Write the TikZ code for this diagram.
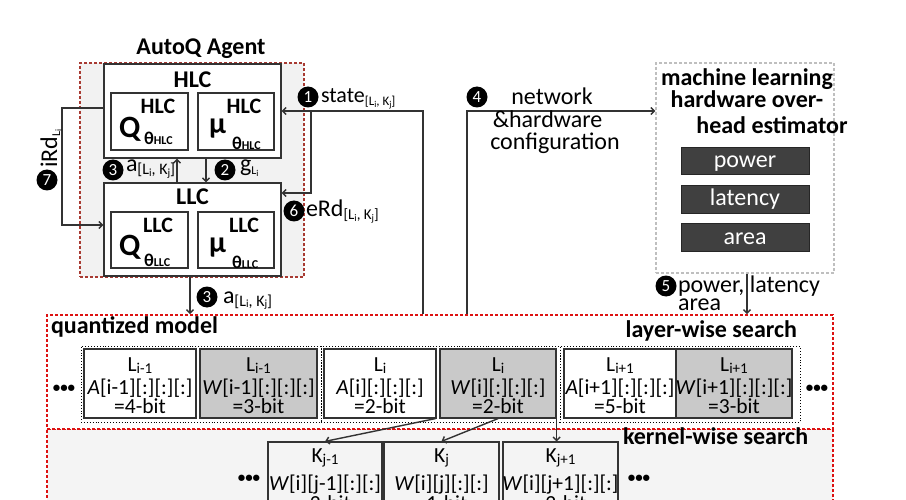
\documentclass[tikz,border=0pt]{standalone}
\usepackage{fontspec}
\setmainfont{Carlito}
\usetikzlibrary{arrows.meta}
\newcommand{\fs}[1]{\fontsize{#1}{#1}\selectfont}
\newcommand{\lo}[3]{\raisebox{-#1}{\fs{#2}#3}}
\newcommand{\LK}[3]{\lo{#1}{#2}{[L\lo{1.5pt}{#3}{i}, K\lo{1.5pt}{#3}{j}]}}
\definecolor{linecol}{HTML}{333333}
\definecolor{agentred}{HTML}{A83A32}
\definecolor{qred}{HTML}{DD1111}
\definecolor{agentfill}{HTML}{F2F2F2}
\definecolor{kfill}{HTML}{F4F4F4}
\definecolor{estgray}{HTML}{BFBFBF}
\definecolor{wgray}{HTML}{C9C9C9}
\definecolor{darkbox}{HTML}{404040}
\begin{document}
\begin{tikzpicture}[x=1pt,y=-1pt,
  conn/.style={draw=linecol, line width=1.4pt},
  arr/.style={conn, -{Straight Barb[length=3.5pt,width=7pt]}},
  txt/.style={inner sep=0pt, outer sep=0pt},
  btxt/.style={txt, font=\fs{24}\bfseries},
  rtxt/.style={txt, font=\fs{24}},
  ltxt/.style={txt, anchor=base, font=\fs{21.5}},
  num/.style={circle, fill=black, text=white, inner sep=0pt, minimum size=21pt, font=\fs{17}},
  ctrl/.style={draw=linecol, line width=1.3pt, fill=white, inner sep=0pt, minimum width=177pt},
  inbox/.style={draw=linecol, line width=1.2pt, fill=white, inner sep=0pt, minimum width=77pt, minimum height=57pt},
  lbox/.style={draw=linecol, line width=1.2pt, fill=white, inner sep=0pt, minimum height=69pt},
  wbox/.style={lbox, fill=wgray},
  kbox/.style={draw=linecol, line width=1.2pt, fill=kfill, inner sep=0pt, minimum height=88pt, minimum width=115pt},
  grp/.style={draw=black, dotted, line width=0.9pt, inner sep=0pt, minimum height=76pt},
  dbox/.style={draw=black!85, line width=0.8pt, fill=darkbox, text=white, inner sep=0pt, minimum width=128pt, minimum height=27pt, font=\fs{24}, text height=14pt, text depth=0pt},
  reddash/.style={dash pattern=on 3pt off 2pt}
]
\useasboundingbox (0,0) rectangle (906,500);
\fill[white] (0,0) rectangle (906,500);

% ---------- kernel-wise region and quantized model ----------
\node[draw=qred, reddash, line width=1.8pt, fill=kfill, inner sep=0pt, minimum width=786pt, minimum height=102pt] (kw) at (440,480) {};
\node[draw=qred, reddash, line width=1.8pt, fill=white, inner sep=0pt, minimum width=786pt, minimum height=114pt] (qm) at (440,372) {};

% ---------- agent ----------
\node[btxt, anchor=base] (title) at (201,55) {AutoQ Agent};
\node[draw=agentred, reddash, line width=1.5pt, fill=agentfill, inner sep=0pt, minimum width=224pt, minimum height=214pt] (agent) at (192,170) {};
\node[ctrl, minimum height=94pt] (hlc) at (192.5,111) {};
\node[ctrl, minimum height=93pt] (llc) at (192.5,229.5) {};
\node[btxt, anchor=base] (hlct) at (192.5,88) {HLC};
\node[btxt, anchor=base] (llct) at (192.5,205) {LLC};

\node[inbox] (hq) at (149.5,121.5) {};
\node[inbox, minimum width=76pt] (hm) at (236,121.5) {};
\node[inbox, minimum height=56pt] (lq) at (149.5,240) {};
\node[inbox, minimum width=76pt, minimum height=56pt] (lm) at (236,240) {};

\node[txt, anchor=base, font=\fs{22}\bfseries] (hqs) at (158,114) {HLC};
\node[txt, anchor=base west, font=\fs{31}\bfseries] (hqq) at (119,138) {Q};
\node[txt, anchor=base west, font=\bfseries] (hqt) at (144,145) {\fs{18}θ\fs{12}HLC};
\node[txt, anchor=base, font=\fs{22}\bfseries] (hms) at (244,114) {HLC};
\node[txt, anchor=base west, font=\fs{30}\bfseries] (hmm) at (209,134) {μ};
\node[txt, anchor=base west, font=\bfseries] (hmt) at (232,150) {\fs{18}θ\fs{12}HLC};

\node[txt, anchor=base, font=\fs{22}\bfseries] (lqs) at (158,233) {LLC};
\node[txt, anchor=base west, font=\fs{31}\bfseries] (lqq) at (119,255) {Q};
\node[txt, anchor=base west, font=\bfseries] (lqt) at (144,266) {\fs{18}θ\fs{12}LLC};
\node[txt, anchor=base, font=\fs{22}\bfseries] (lms) at (244,233) {LLC};
\node[txt, anchor=base west, font=\fs{30}\bfseries] (lmm) at (209,252) {μ};
\node[txt, anchor=base west, font=\bfseries] (lmt) at (232,269) {\fs{18}θ\fs{12}LLC};

% ---------- estimator ----------
\node[draw=estgray, reddash, line width=1.3pt, fill=white, inner sep=0pt, minimum width=178pt, minimum height=210pt] (est) at (745,168) {};
\node[btxt, anchor=base] (e1) at (747,86) {machine learning};
\node[btxt, anchor=base] (e2) at (747,108) {hardware over-};
\node[btxt, anchor=base] (e3) at (772,134) {head estimator};
\node[dbox] (pw) at (745,160.5) {power};
\node[dbox, minimum height=28pt] (lt) at (745,199) {latency};
\node[dbox, minimum height=28pt] (ar) at (745,237) {area};

% ---------- connectors ----------
\coordinate (sv) at (423,111);
\coordinate (sb) at (311,111);
\coordinate (sb2) at (311,193);
\coordinate (nv) at (467,111);
\coordinate (ir) at (62,108);
\draw[arr] (sv |- qm.north) -- (sv) -- (sv -| hlc.east);
\draw[arr] (sb) -- (sb2) -- (sb2 -| llc.east);
\draw[arr] (nv |- qm.north) -- (nv) -- (nv -| est.west);
\draw[arr] (ir -| hlc.west) -- (ir) |- ([yshift=4.5pt]llc.west);
\draw[arr] ([xshift=-15.5pt]llc.north) -- ([xshift=-15.5pt]hlc.south);
\draw[arr] ([xshift=13.5pt]hlc.south) -- ([xshift=13.5pt]llc.north);
\draw[arr] ([xshift=-2.5pt]llc.south) -- ([xshift=-2.5pt]llc.south |- qm.north);
\draw[arr] ([xshift=2pt]est.south) -- ([xshift=2pt]est.south |- qm.north);

% ---------- numbered labels ----------
\node[num] (n1) at (308,97) {1};
\node[txt, anchor=base west, font=\fs{22}] (l1) at (321,103) {state\LK{3pt}{13}{9}};
\node[num] (n3a) at (113,170) {3};
\node[rtxt, anchor=base west] (l3a) at (126,172) {a\LK{3pt}{16}{11}};
\node[num] (n2) at (225,170) {2};
\node[rtxt, anchor=base west] (l2) at (240,172) {g\lo{3pt}{12}{L\lo{1.5pt}{9}{i}}};
\node[num] (n6) at (294,211) {6};
\node[rtxt, anchor=base west] (l6) at (306,217) {eRd\LK{3pt}{15}{10}};
\node[num] (n3b) at (207,297) {3};
\node[rtxt, anchor=base west] (l3b) at (223,303) {a\LK{3pt}{16}{11}};
\node[num] (n7) at (47,180) {7};
\node[rtxt, anchor=base west, rotate=90] (l7) at (57,168) {iRd\lo{3pt}{12}{L\lo{1.5pt}{9}{i}}};
\node[num] (n4) at (477,97) {4};
\node[rtxt, anchor=base] (l4a) at (552,105) {network};
\node[rtxt, anchor=base] (l4b) at (547.5,128) {\&hardware};
\node[rtxt, anchor=base] (l4c) at (555,150) {configuration};
\node[num] (n5) at (666,286) {5};
\node[rtxt, anchor=base west] (l5a) at (678,292) {power, latency};
\node[rtxt, anchor=base west] (l5b) at (678,310) {area};

% ---------- quantized model ----------
\node[btxt, anchor=base west] (qmt) at (51,333) {quantized model};
\node[btxt, anchor=base east] (lws) at (797,337) {layer-wise search};
\node[btxt, anchor=base west] (kws) at (623,444) {kernel-wise search};

\node[grp, minimum width=240pt] (g1) at (201,384) {};
\node[grp, minimum width=239pt] (g2) at (440.5,384) {};
\node[grp, minimum width=240pt] (g3) at (680,384) {};

\node[lbox, minimum width=112pt] (l1a) at (140,383.5) {};
\node[wbox, minimum width=117pt] (l1w) at (258.5,383.5) {};
\node[lbox, minimum width=112pt] (l2a) at (380,383.5) {};
\node[wbox, minimum width=116pt] (l2w) at (498,383.5) {};
\node[lbox, minimum width=112pt] (l3a) at (620,383.5) {};
\node[wbox, minimum width=116pt] (l3w) at (734,383.5) {};

\node[ltxt] (t1a1) at (140,371) {L\lo{2pt}{15}{i-1}};
\node[ltxt] (t1a2) at (140,394) {\textit{A}[i-1][:][:][:]};
\node[ltxt] (t1a3) at (140,413) {=4-bit};
\node[ltxt] (t1w1) at (258.5,371) {L\lo{2pt}{15}{i-1}};
\node[ltxt] (t1w2) at (258.5,394) {\textit{W}[i-1][:][:][:]};
\node[ltxt] (t1w3) at (258.5,413) {=3-bit};
\node[ltxt] (t2a1) at (380,371) {L\lo{2pt}{15}{i}};
\node[ltxt] (t2a2) at (380,394) {\textit{A}[i][:][:][:]};
\node[ltxt] (t2a3) at (380,413) {=2-bit};
\node[ltxt] (t2w1) at (498,371) {L\lo{2pt}{15}{i}};
\node[ltxt] (t2w2) at (498,394) {\textit{W}[i][:][:][:]};
\node[ltxt] (t2w3) at (498,413) {=2-bit};
\node[ltxt] (t3a1) at (620,371) {L\lo{2pt}{15}{i+1}};
\node[ltxt] (t3a2) at (620,394) {\textit{A}[i+1][:][:][:]};
\node[ltxt] (t3a3) at (620,413) {=5-bit};
\node[ltxt] (t3w1) at (734,371) {L\lo{2pt}{15}{i+1}};
\node[ltxt] (t3w2) at (734,394) {\textit{W}[i+1][:][:][:]};
\node[ltxt] (t3w3) at (734,413) {=3-bit};

\node[txt, font=\fs{15}\bfseries] (d1) at (64,389) {•••};
\node[txt, font=\fs{15}\bfseries] (d2) at (817,389) {•••};

% ---------- kernels ----------
\node[kbox, minimum width=114pt] (k1) at (325,486) {};
\node[kbox] (k2) at (441.5,486) {};
\node[kbox] (k3) at (560.5,486) {};
\node[ltxt] (k1t1) at (325,462) {K\lo{2pt}{15}{j-1}};
\node[ltxt] (k1t2) at (325,490) {\textit{W}[i][j-1][:][:]};
\node[ltxt] (k1t3) at (325,510) {=2-bit};
\node[ltxt] (k2t1) at (441.5,462) {K\lo{2pt}{15}{j}};
\node[ltxt] (k2t2) at (441.5,490) {\textit{W}[i][j][:][:]};
\node[ltxt] (k2t3) at (441.5,510) {=1-bit};
\node[ltxt] (k3t1) at (560.5,462) {K\lo{2pt}{15}{j+1}};
\node[ltxt] (k3t2) at (560.5,490) {\textit{W}[i][j+1][:][:]};
\node[ltxt] (k3t3) at (560.5,510) {=2-bit};
\node[txt, font=\fs{15}\bfseries] (d3) at (249,479) {•••};
\node[txt, font=\fs{15}\bfseries] (d4) at (639,479) {•••};

\draw[arr] ([xshift=-4pt]l2w.south west) -- (k1.north);
\draw[arr] (l2w.south) -- (k2.north);
\draw[arr] (l2w.south east) -- (l2w.south east |- k3.north);
\end{tikzpicture}
\end{document}
